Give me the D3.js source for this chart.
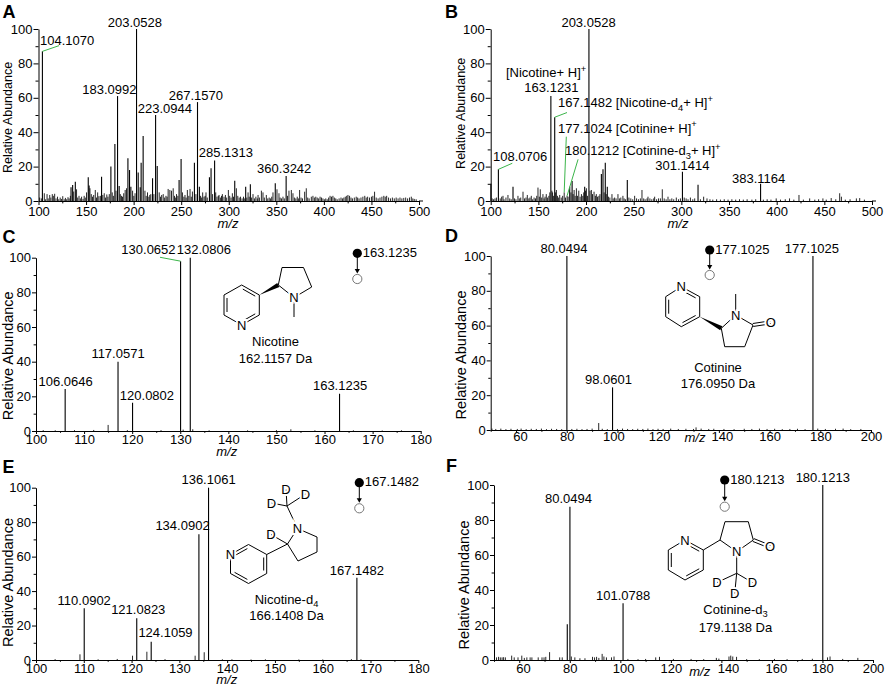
<!DOCTYPE html>
<html><head><meta charset="utf-8">
<script src="https://cdn.jsdelivr.net/npm/d3@7"></script>
<style>body{margin:0;background:#fff}svg text{font-family:Arial,"Liberation Sans",sans-serif}</style>
</head><body><svg id="c" width="886" height="688"></svg>
<script>
// ---------------- DATA ----------------
const yTicks = [0,20,40,60,80,100];
const yMinor = [10,30,50,70,90];
const xTicksAB = [100,150,200,250,300,350,400,450,500];
const xMinorAB = [125,175,225,275,325,375,425,475];
const xTicksCE = [100,110,120,130,140,150,160,170,180];
const xMinorCE = [105,115,125,135,145,155,165,175];
const xTicksDF = [60,80,100,120,140,160,180,200];
const xMinorDF = [50,70,90,110,130,150,170,190];

// [m/z, relative abundance]
const mainA = [[104.107,87],[183.0992,61],[203.0528,100],[223.0944,50],[267.157,57.5],[285.1313,23.5],[360.3242,14.5]];
const minorA = [[101.2,2],[103,1.5],[106.1,4.5],[107.5,1],[109,4],[110.2,1.5],[111.8,3.5],[113,2],[114.5,4],[115.6,3],[117,4.2],[118.4,1.5],[120,2.5],[121.3,1],[122.8,2],[124.1,1.2],[125.5,2.8],[127,1],[128.3,1.8],[129.6,1],[131,2.2],[132.2,1.5],[133.5,3],[134.2,8],[135.9,9.3],[137,5.5],[138.7,11.2],[140,6.8],[141.2,2],[142.6,3],[144,1.5],[145.3,2.5],[146.8,1.2],[148,3],[149.2,2],[150.5,5],[152.3,13.8],[153.2,9],[154.1,7.4],[155.5,4],[156.8,2.5],[158,3.5],[159.7,6.4],[161,2],[162.2,5],[163.5,2.8],[165,3],[166.3,14.1],[167.6,3.5],[169.1,4.5],[170.5,2],[171.8,3.8],[173,2.5],[174.4,4],[176.1,20],[177.5,5],[178.7,3],[180.3,33.1],[181.5,6],[184.8,8.7],[186,4],[187.2,3],[188.3,2.5],[189.6,4.5],[191.1,6.4],[192.5,7.4],[194,24.8],[195.7,18],[197.1,8.3],[198.9,6],[200.2,3],[201.5,4.5],[204.8,16.5],[206.9,8],[207.9,22.3],[210,37.8],[211.9,6],[213.2,3],[214.6,5],[216,2.5],[217,3.5],[218.1,4],[219.9,13.2],[221.3,4],[224.8,20.3],[226.9,5],[228.3,2.5],[229.5,3.5],[231.1,4],[232.6,2],[234,3],[235.2,2.5],[236.3,7],[238.1,6.4],[239.8,6],[241.6,7.4],[243,3],[244.2,2],[245.1,4],[246.5,3],[247.8,12.2],[249.9,24.4],[251.3,5],[252.8,2.5],[254,3.5],[255.2,2],[256.5,6.4],[258,3],[259.3,7],[260.6,2.5],[261.8,5.5],[263.9,22.3],[265.5,4],[269.1,8.3],[270.4,3],[271.5,2],[272.6,5],[274,2.5],[275.2,3],[276.1,5],[277.4,2],[279.7,13.8],[281.4,19],[283,4],[286.3,5],[287.6,2.5],[289,3],[289.8,3.5],[291.2,2],[292.4,3],[293.3,4],[295,2.5],[296.5,3.5],[297.8,2],[299.6,6.4],[301,3],[302.4,2],[303.8,4.5],[305,2.5],[306.3,11.8],[308,7.4],[309.5,3],[311,2],[312.4,2.5],[314,1.5],[315.5,2.5],[316.8,1.5],[317.8,8.3],[319,2],[320.3,5],[321.5,2.5],[322.7,9.7],[324,2],[325.5,4],[327,1.5],[328.5,2.5],[330,1.5],[330.8,3.5],[332.2,2],[334.3,6],[336,5],[337.4,2],[339.5,3.5],[341,1.5],[342.5,2],[344,1.5],[345.2,2.5],[346.5,5],[348.9,10.3],[350.7,6.8],[352.8,4.5],[354,2],[355.5,1.5],[357,2.5],[358.4,1.5],[361.8,3],[363.3,6],[365.8,6.4],[367.5,4.5],[369,2],[370.5,1.5],[372,2.5],[373.2,1.5],[374.5,6.4],[376,2],[377.5,1.5],[379.8,5.4],[381.5,7.4],[383,2],[384.5,1.5],[386.8,2.5],[388.5,3],[390,2],[391.5,2.5],[393,2],[394.5,1.5],[396,2.5],[397.5,2],[399,1.5],[400.5,1],[402,1.5],[403.5,1],[405,2],[406.5,3],[408,2.5],[409.5,3],[411,2],[412.5,1.5],[414,1],[416,1.5],[418,2],[419.5,1.5],[421,2],[422.5,2.5],[424,3],[425.3,3.5],[427,3],[428.5,2],[430,1.5],[432,2],[434,2.5],[435.5,2],[437,1.5],[439,2],[441,2.5],[443,3],[444.5,2],[446,2.5],[448,2],[450,2.5],[451.5,3],[453.3,5.4],[455,2],[457,1.5],[459,2],[461,2.5],[463,3],[464.5,2.5],[466,3],[468,2],[470,1.5],[472,2],[474,1.5],[476,2],[478,1.5],[480,2],[482,1.5],[484,1.8],[486,2],[488,1.5],[490,2],[491.9,2.5],[493.5,1.5],[495,1.2],[497,1]];

const mainB = [[108.0706,18.4],[163.1231,61],[167.1482,48.7],[177.1024,5],[180.1212,3],[203.0528,100],[301.1414,17],[383.1164,10]];
const minorB = [[100.2,10],[101.5,1.5],[103,1],[104.5,1.5],[106,2],[110,1.5],[111.5,2.5],[112.9,3],[114,1],[116,2],[118.1,3.5],[120,1.5],[121.5,1],[123.4,8.3],[125,1.5],[126.5,1],[128.6,3],[130,1.5],[131.5,2],[133.9,5.4],[135.5,1.5],[137,2],[138.4,3.5],[140,1.5],[141.2,2],[142.6,3],[144,1],[145.5,2],[147,1.5],[148.3,3],[149.6,7.8],[151,2.5],[152,6.8],[153.5,2],[154.8,4],[156,1.5],[157,2.5],[158.3,4],[159.5,2],[161,3],[162,5],[164.2,6],[164.9,5],[166,3],[168.1,5],[168.9,6.4],[170,3],[171,2],[172.4,3.5],[174,2],[175.5,3],[178.5,2],[181.2,2.5],[182.9,8.3],[184.2,5],[185.4,11.6],[186.5,4],[187.5,6.4],[188.6,3],[189.9,7.4],[191,3],[192.4,6],[193.8,2.5],[195.2,4],[196.6,3],[197.6,5],[198.6,8.3],[199.5,6],[200.4,7.4],[201.5,3],[204.2,6],[205.6,6.4],[206.8,4],[208.4,5.4],[209.8,3],[210.8,4],[212,2.5],[213.5,3],[214.6,4],[216.1,15.7],[217.8,18.4],[219,5],[220.2,22.3],[221.2,4],[222.3,8.3],[223.5,2.5],[225,2],[227.2,4],[228.5,1.5],[230,2],[231.5,1.5],[233.5,4],[235,1.5],[236.5,2],[238.7,3],[240,1.5],[241.5,1],[243.3,12.2],[245,2],[247,1.5],[249,1],[251,3],[253,1.5],[255,1],[257,1.5],[258.7,6.4],[260.5,1.5],[262,1],[264,1.5],[265,2.5],[267,1.5],[269,1],[271,1.5],[272,2.5],[274,1],[276,1.5],[278,1.5],[280,6.8],[282,1.5],[284,1],[286,2.5],[288,1],[290,1.5],[292,1],[294.7,2],[297,1],[299,1.5],[303,2],[305,1.5],[307,1],[309.5,2],[312,1],[314,1.5],[317.5,9.5],[320,1],[323.4,2.5],[326.9,1.5],[330,1],[333,0.8],[337,1],[341,0.8],[345,1],[349,0.8],[353,1],[357,0.8],[361,1],[365,0.8],[369,1],[374,0.8],[378,1],[386,0.8],[390,1],[394,0.8],[399.5,1.5],[404,0.8],[409,1],[413.5,1.5],[418,0.8],[423.4,3.5],[428,0.8],[434.6,1.5],[440,0.8],[444,1],[448.5,1.5],[452,0.8],[457.2,1.7],[462,1],[466.1,4.5],[467.9,2.5],[472,0.8],[477,1],[483.6,1.5],[487.1,1.7],[492,0.8]];

const mainC = [[106.0646,24.2],[117.0571,40],[120.0802,16.3],[130.0652,98],[132.0806,100],[163.1235,21.5]];
const minorC = [[101.5,0.5],[104,0.4],[108,0.5],[112,0.6],[115,3.5],[119,0.5],[126,0.5],[130.6,0.8],[132.6,1],[136,0.4],[144,0.4],[150,0.5],[153,1],[158,0.4],[166,0.4],[172,0.3],[176,0.4]];

const mainD = [[80.0494,100],[98.0601,24.5],[177.1025,100]];
const minorD = [[50.5,0.8],[52,0.6],[54,0.8],[56,0.5],[58,0.7],[60.5,0.6],[62,0.8],[64,0.5],[66,0.7],[68,0.6],[70,0.8],[72,0.5],[74,0.7],[76,0.6],[78,0.5],[82,0.6],[84,0.7],[86,0.5],[88,0.6],[90,0.8],[92.6,4],[94,0.7],[96,0.5],[100,0.6],[102,0.8],[104,0.6],[106,0.5],[108,0.7],[110,0.6],[112,0.8],[114,0.5],[116,0.7],[118,0.6],[121,0.8],[124,0.6],[127,0.7],[130,0.6],[131,1.5],[133,0.8],[136,0.6],[138,0.7],[142,0.6],[146,0.5],[150,0.7],[153,0.6],[156,0.8],[159,0.6],[162,0.7],[165,0.5],[168,0.6],[171,0.7],[174,0.5],[179,0.8],[182,0.6],[186,0.7],[189,0.8],[192,0.5],[196,0.6]];

const mainE = [[110.0902,30],[121.0823,24.2],[124.1059,10.6],[134.0902,73],[136.1061,100],[167.1482,47.8]];
const minorE = [[104,0.5],[109.2,3.3],[113,0.4],[117,0.6],[120.2,2.5],[123.2,4.8],[127,0.5],[133.3,2.5],[135.2,4.5],[139,0.4],[141,0.4],[145,0.3],[148,0.4],[155,0.3],[160,0.3],[166,0.5],[168,0.4]];

const mainF = [[80.0494,87.6],[101.0788,32.4],[180.1213,100]];
const minorF = [[51,1.5],[51.8,1.8],[52.5,1.5],[53.2,1.5],[53.8,1.6],[54.5,1.5],[57,2.5],[58,1.5],[59.5,1.5],[61,2.5],[62,1.2],[63,1.5],[64.3,1.5],[65,1.5],[67.5,1.5],[69,1.5],[69.8,1.5],[70.5,1.8],[72,4.5],[76,1.5],[77,1.5],[79,20.5],[80.6,2],[82,1.5],[84,1],[86,1],[89,1.8],[89.8,1.5],[90.6,1.8],[91.5,1.2],[92.8,3.5],[93.5,2],[94.5,1.5],[96.5,1.5],[97.5,2],[103,0.6],[107,0.5],[110,0.6],[114,1.5],[115.5,1.8],[121,0.6],[128,0.6],[133,0.5],[138,1.2],[139,0.8],[143,2],[143.7,2.5],[144.5,2],[146,1.8],[150,0.5],[155,0.5],[161,0.6],[166,0.5],[172,0.6],[176,0.7],[182,1.5],[183,2],[188,0.6],[194,1.2]];

// peak annotations
const labelsA = [{mz:104.107,text:"104.1070"},{mz:203.0528,text:"203.0528"},{mz:183.0992,text:"183.0992"},{mz:223.0944,text:"223.0944"},{mz:267.157,text:"267.1570"},{mz:285.1313,text:"285.1313"},{mz:360.3242,text:"360.3242"}];
const labelsB = [{mz:203.0528,text:"203.0528"},{mz:163.1231,text:"[Nicotine+ H]^{+}"},{mz:163.1231,text:"163.1231"},{mz:167.1482,text:"167.1482 [Nicotine-d_{4}+ H]^{+}"},{mz:177.1024,text:"177.1024 [Cotinine+ H]^{+}"},{mz:180.1212,text:"180.1212 [Cotinine-d_{3}+ H]^{+}"},{mz:108.0706,text:"108.0706"},{mz:301.1414,text:"301.1414"},{mz:383.1164,text:"383.1164"}];
const labelsC = [{mz:130.0652,text:"130.0652"},{mz:132.0806,text:"132.0806"},{mz:117.0571,text:"117.0571"},{mz:106.0646,text:"106.0646"},{mz:120.0802,text:"120.0802"},{mz:163.1235,text:"163.1235"}];
const labelsD = [{mz:80.0494,text:"80.0494"},{mz:98.0601,text:"98.0601"},{mz:177.1025,text:"177.1025"}];
const labelsE = [{mz:136.1061,text:"136.1061"},{mz:134.0902,text:"134.0902"},{mz:167.1482,text:"167.1482"},{mz:110.0902,text:"110.0902"},{mz:121.0823,text:"121.0823"},{mz:124.1059,text:"124.1059"}];
const labelsF = [{mz:180.1213,text:"180.1213"},{mz:80.0494,text:"80.0494"},{mz:101.0788,text:"101.0788"}];

const precursors = {C:"163.1235", D:"177.1025", E:"167.1482", F:"180.1213"};
const compounds = {C:["Nicotine","162.1157 Da"], D:["Cotinine","176.0950 Da"], E:["Nicotine-d_{4}","166.1408 Da"], F:["Cotinine-d_{3}","179.1138 Da"]};

// ---------------- LAYOUT ----------------
const GREEN = "#3bb54a";
const svg = d3.select("#c");

function richText(sel, str, fs){
  const parts = str.split(/(_\{[^}]*\}|\^\{[^}]*\})/).filter(s=>s.length);
  let shift = 0;
  parts.forEach(p=>{
    let t=p, target=0, size=fs;
    if (p.startsWith("_{")) { t=p.slice(2,-1); target=fs*0.28; size=fs*0.72; }
    else if (p.startsWith("^{")) { t=p.slice(2,-1); target=-fs*0.42; size=fs*0.72; }
    sel.append("tspan").attr("dy", target-shift).attr("font-size", size).text(t);
    shift = target;
  });
}

const panels = [
 {id:"A", peaks:mainA.concat(minorA), labels:labelsA, xDomain:[100,500], xTicks:xTicksAB, xMinor:xMinorAB,
  L:{x0:38.5,x1:419,y0:201,y1:29,axisEnd:423,ytick:5,xtick:4,xpad:2,letter:[2.5,18.3],ylab:[7.5,117.5,12.5],xlab:[228,228]},
  pos:[{anchor:"start",dx:-2.4,dy:6.4,lead:[16.6,-5.7]},{dx:-1.7,dy:2.5},{dx:-8.2,dy:2.1},{dx:9.3,dy:2},{dx:-1.7,dy:2.1},{dx:11.2,dy:3.1},{dx:-1.9,dy:3.1}]},
 {id:"B", peaks:mainB.concat(minorB), labels:labelsB, xDomain:[100,500], xTicks:xTicksAB, xMinor:xMinorAB,
  L:{x0:490.7,x1:872,y0:201,y1:29,axisEnd:876,ytick:5,xtick:4,xpad:2,letter:[445,18.3],ylab:[460.8,113.3,12.5],xlab:[678,227.5]},
  pos:[{dx:-0.4,dy:2.5},{anchor:"start",dx:-44.9,dy:18.6},{dx:0.6,dy:3.6},{anchor:"start",dx:3.3,dy:10.2,lead:[12.3,-4.7]},{anchor:"start",dx:-6.2,dy:59.9,lead:[2.1,-55.7]},{anchor:"start",dx:-2.1,dy:40.8,lead:[11,-36.5]},{anchor:"start",dx:-5.4,dy:8,lead:[13.9,-6.1]},{dx:0,dy:1.8},{dx:-2,dy:1.3}]},
 {id:"C", peaks:mainC.concat(minorC), labels:labelsC, xDomain:[100,180], xTicks:xTicksCE, xMinor:xMinorCE,
  L:{x0:36,x1:420.7,y0:431,y1:257.7,axisEnd:420.7,ytick:4,xtick:3,xpad:0.8,letter:[2.5,243.3],ylab:[7.5,355.8,14.5],xlab:[226.7,456],prec:[357.3,253.3,279],mol:[275.5,346,362.5]},
  pos:[{anchor:"end",dx:-5,dy:6.9,lead:[-20.6,-3.9]},{dx:13.6,dy:3.4},{dx:0,dy:3.4},{dx:0.5,dy:3},{dx:14.4,dy:2.8},{dx:0.5,dy:3.4}]},
 {id:"D", peaks:mainD.concat(minorD), labels:labelsD, xDomain:[50,200], xTicks:xTicksDF, xMinor:xMinorDF,
  tickShift:{60:4,100:-4,120:-9,140:3},
  L:{x0:490.7,x1:871,y0:430,y1:256,axisEnd:871,ytick:4,xtick:3,xpad:-1,letter:[445,242.3],ylab:[461.3,355,14.5],xlab:[695,442],prec:[709.7,250,275],mol:[718,371.5,387.5]},
  pos:[{dx:-2.9,dy:2.7},{dx:-4,dy:3.1},{dx:-1,dy:2.7}]},
 {id:"E", peaks:mainE.concat(minorE), labels:labelsE, xDomain:[100,180], xTicks:xTicksCE, xMinor:xMinorCE,
  L:{x0:36,x1:418.3,y0:660,y1:487.7,axisEnd:418.3,ytick:4,xtick:3,xpad:1,letter:[2.5,473.3],ylab:[7.5,582.5,14.5],xlab:[226.7,684],prec:[359.3,482.7,508.3],mol:[286.5,603.5,620]},
  pos:[{dx:0,dy:3.4},{dx:-16.4,dy:4.2},{dx:0,dy:2.6},{dx:0,dy:3.3},{dx:1.5,dy:4},{dx:14.3,dy:5}]},
 {id:"F", peaks:mainF.concat(minorF), labels:labelsF, xDomain:[50,200], xTicks:xTicksDF, xMinor:xMinorDF,
  tickShift:{60:3.7,100:2.7,140:6.6,160:4},
  L:{x0:494,x1:873,y0:660,y1:485,axisEnd:873,ytick:4,xtick:3,xpad:0.5,letter:[446,472.3],ylab:[463.8,585,14.5],xlab:[699.7,676],prec:[724.7,480,506.7],mol:[735.5,613.5,631.5]},
  pos:[{dx:0,dy:3.3},{dx:-1.4,dy:3.4},{dx:0,dy:3.3}]}
];

function styleAxis(g){
  g.attr("font-size",13).attr("font-family","Arial, 'Liberation Sans', sans-serif");
  g.selectAll("path,line").attr("stroke","#000").attr("stroke-width",1);
  g.selectAll("text").attr("fill","#000");
}

panels.forEach(p=>{
  const L = p.L;
  const x = d3.scaleLinear().domain(p.xDomain).range([L.x0, L.x1]);
  const y = d3.scaleLinear().domain([0,100]).range([L.y0, L.y1]);
  const g = svg.append("g");

  g.append("g").selectAll("line").data(p.peaks).join("line")
    .attr("x1",d=>x(d[0])).attr("x2",d=>x(d[0]))
    .attr("y1",y(0)).attr("y2",d=>y(d[1]))
    .attr("stroke","#000").attr("stroke-width",d=>d[1]>=8?1.1:0.85);

  const ya = g.append("g").attr("transform",`translate(${L.x0},0)`)
    .call(d3.axisLeft(y).tickValues(yTicks).tickSize(L.ytick).tickSizeOuter(0).tickPadding(1));
  styleAxis(ya);
  const ym = g.append("g").attr("transform",`translate(${L.x0},0)`)
    .call(d3.axisLeft(y).tickValues(yMinor).tickSize(L.ytick*0.6).tickFormat(""));
  ym.select(".domain").remove(); styleAxis(ym);

  const xa = g.append("g").attr("transform",`translate(0,${L.y0})`)
    .call(d3.axisBottom(x).tickValues(p.xTicks).tickSize(L.xtick).tickSizeOuter(0).tickPadding(L.xpad));
  styleAxis(xa);
  if (p.tickShift) xa.selectAll(".tick text").attr("dx", d=>p.tickShift[d]||0);
  const xm = g.append("g").attr("transform",`translate(0,${L.y0})`)
    .call(d3.axisBottom(x).tickValues(p.xMinor).tickSize(L.xtick*0.6).tickFormat(""));
  xm.select(".domain").remove(); styleAxis(xm);
  if (L.axisEnd > L.x1) g.append("line").attr("x1",L.x1).attr("x2",L.axisEnd).attr("y1",L.y0).attr("y2",L.y0).attr("stroke","#000");

  // titles
  g.append("text").attr("x",L.letter[0]).attr("y",L.letter[1]).attr("font-size",18).attr("font-weight","bold").text(p.id);
  g.append("text").attr("transform",`translate(${L.ylab[0]},${L.ylab[1]}) rotate(-90)`)
    .attr("text-anchor","middle").attr("dy","0.35em").attr("font-size",L.ylab[2]).text("Relative Abundance");
  g.append("text").attr("x",L.xlab[0]).attr("y",L.xlab[1]).attr("text-anchor","middle")
    .attr("font-size",13).attr("font-style","italic").text("m/z");

  // peak labels
  p.labels.forEach((lb,i)=>{
    const o = Object.assign({dx:0,dy:3,anchor:"middle"}, p.pos[i]||{});
    const pk = p.peaks.find(d=>Math.abs(d[0]-lb.mz)<0.001);
    const px = x(lb.mz), py = y(pk[1]);
    if (o.lead) g.append("line").attr("x1",px).attr("y1",py).attr("x2",px+o.lead[0]).attr("y2",py+o.lead[1])
      .attr("stroke",GREEN).attr("stroke-width",1);
    const t = g.append("text").attr("x",px+o.dx).attr("y",py-o.dy).attr("text-anchor",o.anchor).attr("font-size",13);
    richText(t, lb.text, 13);
  });

  // precursor symbol
  if (L.prec){
    const [cx,cy1,cy2] = L.prec;
    g.append("line").attr("x1",cx).attr("x2",cx).attr("y1",cy1).attr("y2",cy2-9).attr("stroke","#000");
    g.append("path").attr("d",`M${cx-2.6},${cy2-10}L${cx+2.6},${cy2-10}L${cx},${cy2-5.5}Z`).attr("fill","#000");
    g.append("circle").attr("cx",cx).attr("cy",cy1).attr("r",4.6).attr("fill","#000");
    g.append("circle").attr("cx",cx).attr("cy",cy2).attr("r",4.6).attr("fill","#fff").attr("stroke","#777").attr("stroke-width",1);
    g.append("text").attr("x",cx+5.5).attr("y",cy1+3.5).attr("font-size",13).text(precursors[p.id]);
  }
  if (L.mol){
    const [mx,b1,b2] = L.mol;
    const t1 = g.append("text").attr("x",mx).attr("y",b1).attr("text-anchor","middle").attr("font-size",13);
    richText(t1, compounds[p.id][0], 13);
    g.append("text").attr("x",mx).attr("y",b2).attr("text-anchor","middle").attr("font-size",13).text(compounds[p.id][1]);
  }
});

// ---------------- STRUCTURE DRAWINGS (illustrations) ----------------
const molecules = [
 { // nicotine
  atoms:{p0:[241.7,285],p1:[259.3,295],p2:[259.3,315],p3:[241.7,325],p4:[224,315],p5:[224,295],
         c2:[278.3,285],c3:[282,267.5],c4:[303.5,267.5],c5:[311.7,287],n:[294,297.5],me:[294,317]},
  centers:{a:[241.7,305],b:[294,281]},
  bonds:[["p0","p1","d","a"],["p1","p2"],["p2","p3","d","a"],["p3","p4"],["p4","p5","d","a"],["p5","p0"],
         ["p1","c2","w"],["c2","c3"],["c3","c4"],["c4","c5"],["c5","n"],["n","c2"],["n","me"]],
  labels:[["p3","N"],["n","N"]]},
 { // cotinine
  atoms:{p0:[681.3,286.7],p1:[699.7,296.7],p2:[699.7,316.7],p3:[681.3,326.7],p4:[665.7,316.7],p5:[665.7,296.7],
         c5:[721.3,328.3],n:[735.7,315],c2:[753,325],c3:[744.7,346.7],c4:[724.7,346.7],me:[735.7,294],o:[770.7,322.3]},
  centers:{a:[682.7,306.7],b:[736,333]},
  bonds:[["p0","p1","d","a"],["p1","p2"],["p2","p3","d","a"],["p3","p4"],["p4","p5","d","a"],["p5","p0"],
         ["p2","c5","w"],["c5","n"],["n","c2"],["c2","c3"],["c3","c4"],["c4","c5"],["n","me"],["c2","o","o"]],
  labels:[["p0","N"],["n","N"],["o","O"]]},
 { // nicotine-d4
  atoms:{p0:[230.5,554.5],p1:[248.5,544.5],p2:[266.7,554.5],p3:[266.7,573.5],p4:[248.5,583.5],p5:[230.5,573.5],
         c2:[287.5,544],n:[297.5,528.5],c5:[317,537],c4:[317,552],c3:[298,561],dd:[271,534.5],
         cm:[287,506],d1:[286,489.5],d2:[305.5,494],d3:[271.5,503]},
  centers:{a:[248.6,564],b:[303.4,544.5]},
  bonds:[["p0","p1","d","a"],["p1","p2"],["p2","p3","d","a"],["p3","p4"],["p4","p5","d","a"],["p5","p0"],
         ["p2","c2"],["c2","n"],["n","c5"],["c5","c4"],["c4","c3"],["c3","c2"],["c2","dd"],
         ["n","cm"],["cm","d1"],["cm","d2"],["cm","d3"]],
  labels:[["p0","N"],["n","N"],["dd","D"],["d1","D"],["d2","D"],["d3","D"]]},
 { // cotinine-d3
  atoms:{p0:[685,540],p1:[703.3,550],p2:[703.3,570],p3:[685,580],p4:[668.3,570],p5:[668.3,550],
         c5:[720,540],c4:[725,521.7],c3:[748.3,521.7],c2:[753.3,540],n:[736.7,551.7],o:[770,546.7],
         cm:[736.7,573.3],d1:[717,582.5],d2:[752.5,582.5],d3:[734.7,593.5]},
  centers:{a:[685.6,560],b:[736.7,535]},
  bonds:[["p0","p1","d","a"],["p1","p2"],["p2","p3","d","a"],["p3","p4"],["p4","p5","d","a"],["p5","p0"],
         ["p1","c5"],["c5","c4"],["c4","c3"],["c3","c2"],["c2","n"],["n","c5"],["c2","o","o"],
         ["n","cm"],["cm","d1"],["cm","d2"],["cm","d3"]],
  labels:[["p0","N"],["n","N"],["o","O"],["d1","D"],["d2","D"],["d3","D"]]}
];

molecules.forEach(m=>{
  const g = svg.append("g");
  m.bonds.forEach(b=>{
    const a = m.atoms[b[0]], c = m.atoms[b[1]];
    const dx=c[0]-a[0], dy=c[1]-a[1], len=Math.hypot(dx,dy), ux=dx/len, uy=dy/len, nx=-uy, ny=ux;
    if (b[2]==="w"){
      g.append("path").attr("d",`M${a[0]},${a[1]}L${c[0]+nx*2.3},${c[1]+ny*2.3}L${c[0]-nx*2.3},${c[1]-ny*2.3}Z`).attr("fill","#000");
      return;
    }
    if (b[2]==="o"){
      [1.5,-1.5].forEach(s=>g.append("line").attr("x1",a[0]+nx*s).attr("y1",a[1]+ny*s).attr("x2",c[0]+nx*s).attr("y2",c[1]+ny*s).attr("stroke","#000"));
      return;
    }
    g.append("line").attr("x1",a[0]).attr("y1",a[1]).attr("x2",c[0]).attr("y2",c[1]).attr("stroke","#000");
    if (b[2]==="d"){
      const ce = m.centers[b[3]];
      const mx=(a[0]+c[0])/2, my=(a[1]+c[1])/2;
      const s = ((ce[0]-mx)*nx+(ce[1]-my)*ny) > 0 ? 3 : -3;
      const sh = 3;
      g.append("line").attr("x1",a[0]+nx*s+ux*sh).attr("y1",a[1]+ny*s+uy*sh)
        .attr("x2",c[0]+nx*s-ux*sh).attr("y2",c[1]+ny*s-uy*sh).attr("stroke","#000");
    }
  });
  m.labels.forEach(l=>{
    const a = m.atoms[l[0]];
    g.append("text").attr("x",a[0]).attr("y",a[1]).attr("dy","0.36em").attr("text-anchor","middle")
      .attr("font-size",13).attr("stroke","#fff").attr("stroke-width",4).attr("paint-order","stroke")
      .attr("fill","#000").text(l[1]);
  });
});
</script></body></html>
